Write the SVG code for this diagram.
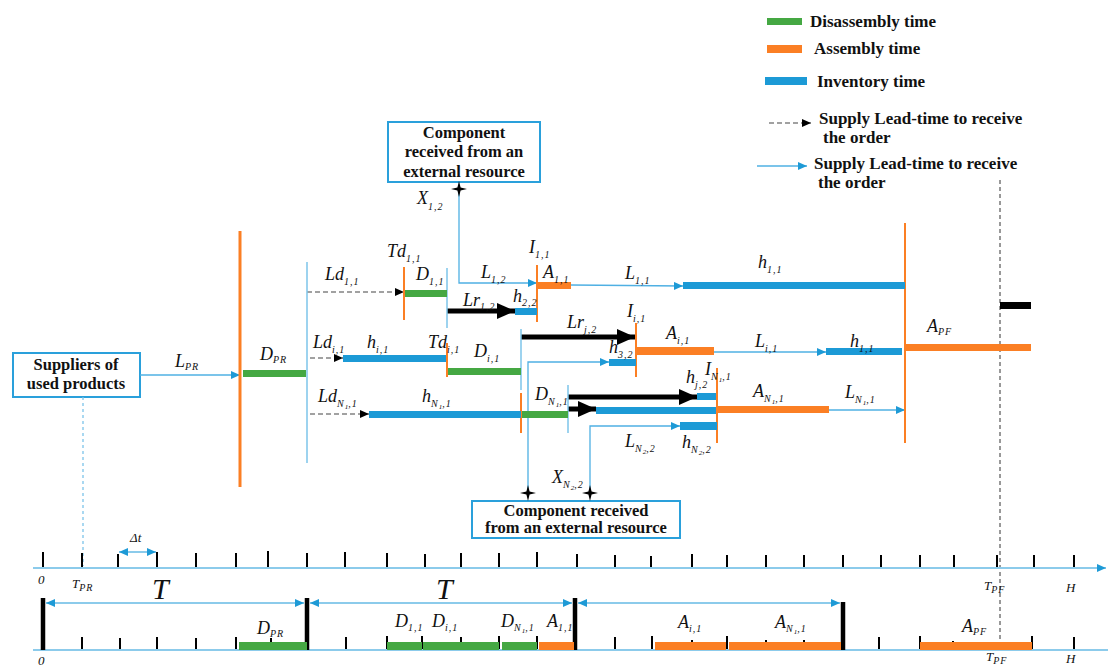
<svg xmlns="http://www.w3.org/2000/svg" width="1108" height="667" viewBox="0 0 1108 667">
<defs>
<style>
.g{fill:#45a843}.o{fill:#fb7f24}.b{fill:#1c9ad6}.k{fill:#000}
.ln{stroke:#4fb0e3;stroke-width:1.3;fill:none}
.ov{stroke:#fb7f24;stroke-width:2}
.ovt{stroke:#fb7f24;stroke-width:3}
.bv{stroke:#7cc4ea;stroke-width:1.5}
.dash{stroke:#444;stroke-width:1.2;stroke-dasharray:5 3;fill:none}
.bk{stroke:#000;stroke-width:5}
.tk{stroke:#000;stroke-width:2}
.tb{stroke:#000;stroke-width:4.5}
.ax{stroke:#8ccbeb;stroke-width:2;fill:none}
.box{fill:#fff;stroke:#2aa0db;stroke-width:2}
.lg{font-family:"Liberation Serif","DejaVu Serif",serif;font-weight:bold;font-size:17px;fill:#111}
.bx{font-family:"Liberation Serif","DejaVu Serif",serif;font-weight:bold;font-size:16.5px;fill:#111;text-anchor:middle}
.lb{font-family:"Liberation Serif","DejaVu Serif",serif;font-style:italic;font-size:18px;fill:#111}
.sm{font-family:"Liberation Serif","DejaVu Serif",serif;font-style:italic;font-size:13px;fill:#111}
.s{font-size:10px;letter-spacing:1px}
.ss{font-size:7px}
.big{font-family:"Liberation Serif","DejaVu Serif",serif;font-style:italic;font-size:30px;fill:#111}
</style>
<marker id="ab" markerUnits="userSpaceOnUse" markerWidth="9" markerHeight="8" refX="9" refY="4" orient="auto"><path d="M0,0 L9,4 L0,8 z" fill="#1e9ad6"/></marker>
<marker id="abs" markerUnits="userSpaceOnUse" markerWidth="9" markerHeight="8" refX="9" refY="4" orient="auto-start-reverse"><path d="M0,0 L9,4 L0,8 z" fill="#1e9ad6"/></marker>
<marker id="ak" markerUnits="userSpaceOnUse" markerWidth="9" markerHeight="8" refX="9" refY="4" orient="auto"><path d="M0,0 L9,4 L0,8 z" fill="#000"/></marker>
<marker id="akb" markerUnits="userSpaceOnUse" markerWidth="18" markerHeight="16" refX="18" refY="8" orient="auto"><path d="M0,0 L18,8 L0,16 z" fill="#000"/></marker>
<path id="star" d="M0,-8 L1.6,-1.6 L8,0 L1.6,1.6 L0,8 L-1.6,1.6 L-8,0 L-1.6,-1.6 z" fill="#000"/>
</defs>

<g id="legend">
<rect class="g" x="767" y="18" width="35" height="7"/>
<text class="lg" x="810" y="27">Disassembly time</text>
<rect class="o" x="767" y="45" width="35" height="8"/>
<text class="lg" x="814" y="54">Assembly time</text>
<rect class="b" x="765" y="77" width="42" height="8"/>
<text class="lg" x="817" y="87">Inventory time</text>
<line class="dash" x1="769" y1="123" x2="811" y2="123" marker-end="url(#ak)"/>
<text class="lg" x="819" y="124">Supply Lead-time to receive</text>
<text class="lg" x="823" y="143">the order</text>
<line class="ln" x1="757" y1="166" x2="807" y2="166" marker-end="url(#ab)"/>
<text class="lg" x="814" y="169">Supply Lead-time to receive</text>
<text class="lg" x="818" y="188">the order</text>
</g>

<g id="ext-top">
<rect class="box" x="388" y="122" width="152" height="60"/>
<text class="bx" x="464" y="138">Component</text>
<text class="bx" x="464" y="157">received from an</text>
<text class="bx" x="464" y="177">external resource</text>
</g>

<g id="suppliers">
<rect class="box" x="13" y="353" width="127" height="44"/>
<text class="bx" x="76" y="370">Suppliers of</text>
<text class="bx" x="76" y="389">used products</text>
</g>

<g id="ext-bottom">
<rect class="box" x="472" y="501" width="208" height="37"/>
<text class="bx" x="576" y="516">Component received</text>
<text class="bx" x="576" y="533">from an external resource</text>
</g>

<g id="connectors">
<line class="ln" x1="140" y1="375" x2="240" y2="375" marker-end="url(#ab)"/>
<path class="ln" d="M459,189 V283 H537" marker-end="url(#ab)"/>
<line class="ln" x1="571" y1="285" x2="683" y2="286" marker-end="url(#ab)"/>
<line class="ln" x1="714" y1="352" x2="826" y2="352" marker-end="url(#ab)"/>
<line class="ln" x1="829" y1="410" x2="905" y2="410" marker-end="url(#ab)"/>
<path class="ln" d="M528,493 V362 H609" marker-end="url(#ab)"/>
<path class="ln" d="M590,493 V426 H680" marker-end="url(#ab)"/>
<line class="dash" x1="307" y1="292" x2="404" y2="292" marker-end="url(#ak)"/>
<line class="dash" x1="310" y1="358" x2="343" y2="358" marker-end="url(#ak)"/>
<line class="dash" x1="310" y1="414" x2="369" y2="414" marker-end="url(#ak)"/>
<line class="bk" x1="447" y1="311" x2="515" y2="311" marker-end="url(#akb)"/>
<line class="bk" x1="521" y1="337" x2="635" y2="337" marker-end="url(#akb)"/>
<line class="bk" x1="568" y1="397" x2="697" y2="397" marker-end="url(#akb)"/>
<line class="bk" x1="568" y1="409" x2="596" y2="409" marker-end="url(#akb)"/>
<line x1="83" y1="397" x2="83" y2="566" stroke="#7cc4ea" stroke-width="1.3" stroke-dasharray="3 3"/>
<line x1="1000" y1="180" x2="1000" y2="650" stroke="#333" stroke-width="1" stroke-dasharray="4 3"/>
</g>

<g id="verticals">
<line class="ovt" x1="240" y1="231" x2="240" y2="487"/>
<line class="bv" x1="307" y1="262" x2="307" y2="463"/>
<line class="ov" x1="404" y1="267" x2="404" y2="320"/>
<line class="bv" x1="447" y1="268" x2="447" y2="328"/>
<line class="ov" x1="447" y1="343" x2="447" y2="377"/>
<line class="bv" x1="521" y1="329" x2="521" y2="390"/>
<line class="ov" x1="521" y1="393" x2="521" y2="433"/>
<line class="bv" x1="568" y1="385" x2="568" y2="433"/>
<line class="ov" x1="537" y1="265" x2="537" y2="322"/>
<line class="ov" x1="636" y1="323" x2="636" y2="377"/>
<line class="ov" x1="717" y1="368" x2="717" y2="443"/>
<line class="ov" x1="905" y1="223" x2="905" y2="443"/>
</g>

<g id="bars">
<rect class="g" x="243" y="370" width="63" height="7"/>
<rect class="g" x="405" y="290" width="42" height="7"/>
<rect class="b" x="515" y="308" width="22" height="7"/>
<rect class="o" x="538" y="282" width="33" height="7"/>
<rect class="b" x="683" y="282" width="222" height="7"/>
<rect class="b" x="343" y="355" width="103" height="7"/>
<rect class="g" x="448" y="368" width="73" height="7"/>
<rect class="b" x="609" y="359" width="27" height="7"/>
<rect class="o" x="637" y="347" width="77" height="8"/>
<rect class="b" x="826" y="348" width="76" height="7"/>
<rect class="o" x="906" y="344" width="125" height="7"/>
<rect class="k" x="1000" y="302" width="31" height="7"/>
<rect class="b" x="369" y="411" width="152" height="7"/>
<rect class="g" x="522" y="411" width="46" height="7"/>
<rect class="b" x="697" y="393" width="19" height="7"/>
<rect class="b" x="596" y="407" width="120" height="7"/>
<rect class="o" x="718" y="406" width="111" height="7"/>
<rect class="b" x="680" y="422" width="37" height="8"/>
</g>

<g id="stars">
<use href="#star" x="459" y="189"/>
<use href="#star" x="528" y="493"/>
<use href="#star" x="590" y="493"/>
</g>

<g id="labels">
<text class="lb" x="417" y="204">X<tspan class="s" dy="6">1,2</tspan></text>
<text class="lb" x="387" y="257">Td<tspan class="s" dy="5">1,1</tspan></text>
<text class="lb" x="416" y="280">D<tspan class="s" dy="5">1,1</tspan></text>
<text class="lb" x="481" y="278">L<tspan class="s" dy="5">1,2</tspan></text>
<text class="lb" x="529" y="253">I<tspan class="s" dy="5">1,1</tspan></text>
<text class="lb" x="543" y="278">A<tspan class="s" dy="5">1,1</tspan></text>
<text class="lb" x="625" y="279">L<tspan class="s" dy="5">1,1</tspan></text>
<text class="lb" x="758" y="268">h<tspan class="s" dy="5">1,1</tspan></text>
<text class="lb" x="463" y="306">Lr<tspan class="s" dy="4">1,2</tspan></text>
<text class="lb" x="513" y="302">h<tspan class="s" dy="4">2,2</tspan></text>
<text class="lb" x="325" y="280">Ld<tspan class="s" dy="5">1,1</tspan></text>
<text class="lb" x="313" y="348">Ld<tspan class="s" dy="5">i,1</tspan></text>
<text class="lb" x="367" y="348">h<tspan class="s" dy="5">i,1</tspan></text>
<text class="lb" x="428" y="348">Td<tspan class="s" dy="5">i,1</tspan></text>
<text class="lb" x="474" y="357">D<tspan class="s" dy="5">i,1</tspan></text>
<text class="lb" x="318" y="402">Ld<tspan class="s" dy="5">N</tspan><tspan class="ss" dy="2">1</tspan><tspan class="s" dy="-2">,1</tspan></text>
<text class="lb" x="422" y="402">h<tspan class="s" dy="5">N</tspan><tspan class="ss" dy="2">1</tspan><tspan class="s" dy="-2">,1</tspan></text>
<text class="lb" x="535" y="400">D<tspan class="s" dy="5">N</tspan><tspan class="ss" dy="2">1</tspan><tspan class="s" dy="-2">,1</tspan></text>
<text class="lb" x="567" y="328">Lr<tspan class="s" dy="5">j,2</tspan></text>
<text class="lb" x="627" y="317">I<tspan class="s" dy="5">i,1</tspan></text>
<text class="lb" x="609" y="353">h<tspan class="s" dy="5">3,2</tspan></text>
<text class="lb" x="666" y="339">A<tspan class="s" dy="5">i,1</tspan></text>
<text class="lb" x="755" y="347">L<tspan class="s" dy="5">i,1</tspan></text>
<text class="lb" x="850" y="347">h<tspan class="s" dy="5">1,1</tspan></text>
<text class="lb" x="686" y="383">h<tspan class="s" dy="5">j,2</tspan></text>
<text class="lb" x="705" y="375">I<tspan class="s" dy="5">N</tspan><tspan class="ss" dy="2">1</tspan><tspan class="s" dy="-2">,1</tspan></text>
<text class="lb" x="753" y="397">A<tspan class="s" dy="5">N</tspan><tspan class="ss" dy="2">1</tspan><tspan class="s" dy="-2">,1</tspan></text>
<text class="lb" x="845" y="398">L<tspan class="s" dy="5">N</tspan><tspan class="ss" dy="2">1</tspan><tspan class="s" dy="-2">,1</tspan></text>
<text class="lb" x="625" y="447">L<tspan class="s" dy="5">N</tspan><tspan class="ss" dy="2">2</tspan><tspan class="s" dy="-2">,2</tspan></text>
<text class="lb" x="682" y="448">h<tspan class="s" dy="5">N</tspan><tspan class="ss" dy="2">2</tspan><tspan class="s" dy="-2">,2</tspan></text>
<text class="lb" x="552" y="483">X<tspan class="s" dy="5">N</tspan><tspan class="ss" dy="2">2</tspan><tspan class="s" dy="-2">,2</tspan></text>
<text class="lb" x="175" y="367">L<tspan class="s" dy="3">PR</tspan></text>
<text class="lb" x="260" y="360">D<tspan class="s" dy="3">PR</tspan></text>
<text class="lb" x="927" y="332">A<tspan class="s" dy="3">PF</tspan></text>
</g>

<g id="timeline">
<line class="ax" x1="33" y1="568" x2="1106" y2="568" marker-end="url(#ab)"/>
<line class="ax" x1="33" y1="650" x2="1108" y2="650"/>
<path class="tk" d="M43,552V567 M82,553V567 M118,554V567 M157,552V567 M196,553V567 M236,553V567 M268,551V567 M307,553V567 M345,552V567 M387,553V567 M425,554V567 M461,553V567 M499,553V567 M537,552V567 M577,554V567 M615,555V567 M651,556V567 M692,554V567 M727,555V567 M766,555V567 M804,555V567 M843,555V567 M881,555V567 M920,555V567 M954,555V567 M997,555V567 M1034,555V567 M1074,555V567"/>
<path class="tk" d="M82,637V649 M120,638V649 M157,637V649 M196,638V649 M236,637V649 M271,638V649 M346,637V649 M387,636V649 M422,636V649 M461,637V649 M499,636V649 M537,636V649 M615,637V649 M652,636V649 M692,640V649 M727,636V649 M766,640V649 M804,640V649 M879,637V649 M920,636V649 M953,641V649 M1032,636V649 M1074,637V649"/>
<path class="tb" d="M43,598V650 M307,598V650 M575,598V650 M843,602V650"/>
<line class="ax" stroke-width="1.6" x1="46" y1="603" x2="304" y2="603" marker-start="url(#abs)" marker-end="url(#abs)"/>
<line class="ax" stroke-width="1.6" x1="310" y1="603" x2="572" y2="603" marker-start="url(#abs)" marker-end="url(#abs)"/>
<line class="ax" stroke-width="1.6" x1="578" y1="603" x2="840" y2="603" marker-start="url(#abs)" marker-end="url(#abs)"/>
<line class="ax" stroke-width="1.5" x1="119" y1="552" x2="156" y2="552" marker-start="url(#abs)" marker-end="url(#abs)"/>
<text class="sm" x="130" y="542" font-size="14">Δt</text>
<text class="big" x="152" y="599">T</text>
<text class="big" x="436" y="599">T</text>
<rect class="g" x="239" y="642" width="68" height="8"/>
<rect class="g" x="387" y="642" width="35" height="8"/>
<rect class="g" x="423" y="642" width="76" height="8"/>
<rect class="g" x="502" y="642" width="35" height="8"/>
<rect class="o" x="539" y="642" width="35" height="8"/>
<rect class="o" x="655" y="642" width="71" height="8"/>
<rect class="o" x="729" y="642" width="112" height="8"/>
<rect class="o" x="920" y="642" width="112" height="8"/>
<text class="lb" x="257" y="634">D<tspan class="s" dy="3">PR</tspan></text>
<text class="lb" x="395" y="627">D<tspan class="s" dy="4">1,1</tspan></text>
<text class="lb" x="432" y="627">D<tspan class="s" dy="4">i,1</tspan></text>
<text class="lb" x="501" y="627">D<tspan class="s" dy="4">N</tspan><tspan class="ss" dy="2">1</tspan><tspan class="s" dy="-2">,1</tspan></text>
<text class="lb" x="547" y="627">A<tspan class="s" dy="4">1,1</tspan></text>
<text class="lb" x="678" y="628">A<tspan class="s" dy="4">i,1</tspan></text>
<text class="lb" x="775" y="628">A<tspan class="s" dy="4">N</tspan><tspan class="ss" dy="2">1</tspan><tspan class="s" dy="-2">,1</tspan></text>
<text class="lb" x="962" y="632">A<tspan class="s" dy="3">PF</tspan></text>
<text class="sm" x="38" y="584">0</text>
<text class="sm" x="72" y="588">T<tspan class="s" dy="3">PR</tspan></text>
<text class="sm" x="984" y="590">T<tspan class="s" dy="3">PF</tspan></text>
<text class="sm" x="1066" y="592">H</text>
<text class="sm" x="38" y="665">0</text>
<text class="sm" x="986" y="661">T<tspan class="s" dy="3">PF</tspan></text>
<text class="sm" x="1066" y="663">H</text>
</g>
</svg>
